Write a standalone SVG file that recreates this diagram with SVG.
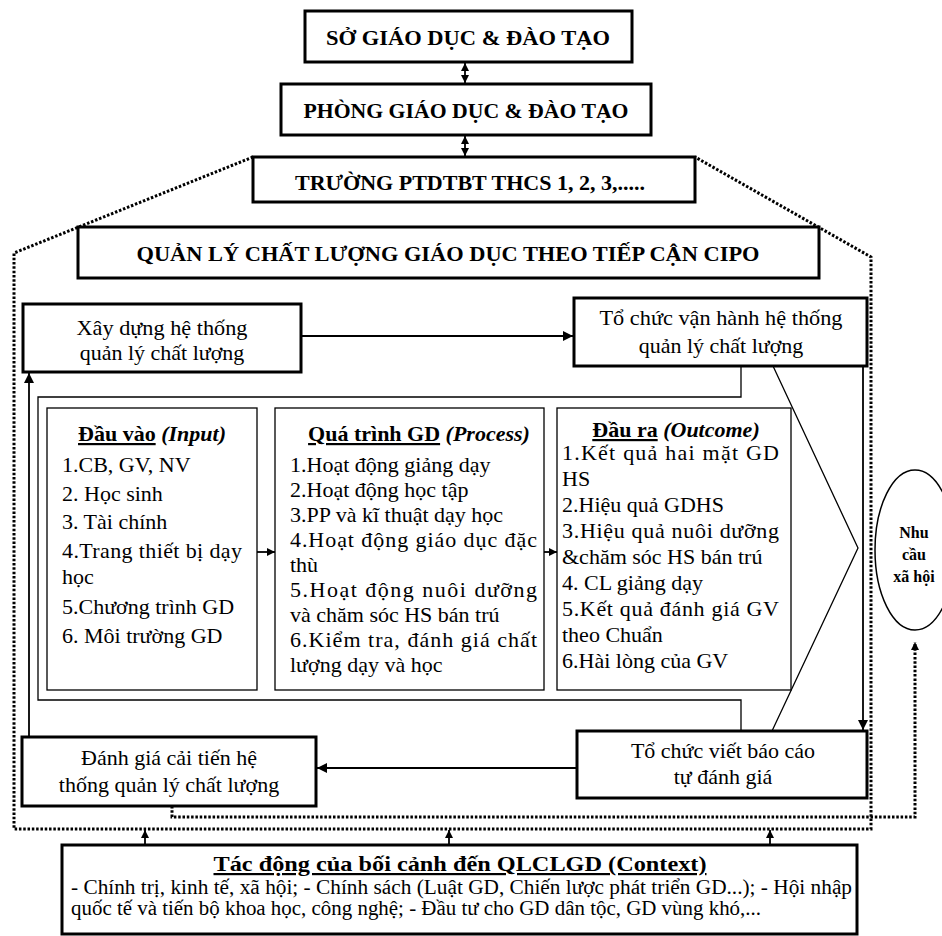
<svg xmlns="http://www.w3.org/2000/svg" width="942" height="936" viewBox="0 0 942 936">
<style>
.box{fill:#fff;stroke:#000;stroke-width:3}
.thin{fill:#fff;stroke:#000;stroke-width:1.3}
.ln{fill:none;stroke:#000;stroke-width:1.8}
.lt{fill:none;stroke:#000;stroke-width:1.3}
.dot{fill:none;stroke:#000;stroke-width:3;stroke-dasharray:2.5 1.8}
text{font-family:"Liberation Serif","Times New Roman",serif;fill:#000}
.t{font-size:22px}
.c{text-anchor:middle}
.h{font-size:22px;font-weight:bold;text-anchor:middle}
.u{text-decoration:underline}
.ctx{font-size:20px}
</style>
<defs>
<marker id="ah" viewBox="0 0 10 10" refX="10" refY="5" markerWidth="10" markerHeight="10" orient="auto-start-reverse" markerUnits="userSpaceOnUse"><path d="M0,0 L10,5 L0,10 z" fill="#000"/></marker>
<marker id="as" viewBox="0 0 10 10" refX="10" refY="5" markerWidth="8" markerHeight="8" orient="auto-start-reverse" markerUnits="userSpaceOnUse"><path d="M0,0 L10,5 L0,10 z" fill="#000"/></marker>
</defs>

<g id="connectors">
<path class="dot" d="M253,157 L14,253 L14,829 L871,829 L871,257 L695,157"/>
<path class="dot" d="M172,806 L172,817 L915,817 L915,642" marker-end="url(#as)"/>
<path class="ln" d="M465,63 L465,83" marker-start="url(#as)" marker-end="url(#as)"/>
<path class="ln" d="M465,136 L465,156" marker-start="url(#as)" marker-end="url(#as)"/>
<path class="ln" d="M301,336 L573,336" marker-end="url(#ah)"/>
<path class="ln" d="M863,366 L863,730" marker-end="url(#ah)"/>
<path class="ln" d="M577,768 L317,768" marker-end="url(#ah)"/>
<path class="ln" d="M29,737 L29,373" marker-end="url(#ah)"/>
<path class="lt" d="M741,366 L741,397 L38,397 L38,700 L741,700 L741,731"/>
<path class="lt" d="M773,366 L858,548 L772,731"/>
<path class="ln" d="M257,552 L275,552" marker-end="url(#as)"/>
<path class="ln" d="M544,552 L557,552" marker-end="url(#as)"/>
<path class="ln" d="M145,845 L145,830" marker-end="url(#as)"/>
<path class="ln" d="M449,845 L449,830" marker-end="url(#as)"/>
<path class="ln" d="M770,845 L770,830" marker-end="url(#as)"/>
</g>

<g id="so">
<rect class="box" x="305" y="11" width="327" height="51"/>
<text class="h" x="468" y="45" textLength="284" lengthAdjust="spacingAndGlyphs">SỞ GIÁO DỤC &amp; ĐÀO TẠO</text>
</g>
<g id="phong">
<rect class="box" x="281" y="84" width="370" height="51"/>
<text class="h" x="466" y="118" textLength="325" lengthAdjust="spacingAndGlyphs">PHÒNG GIÁO DỤC &amp; ĐÀO TẠO</text>
</g>
<g id="truong">
<rect class="box" x="253" y="157" width="442" height="45"/>
<text class="h" x="470" y="190" textLength="350" lengthAdjust="spacingAndGlyphs">TRƯỜNG PTDTBT THCS 1, 2, 3,.....</text>
</g>
<g id="quanly">
<rect class="box" x="78" y="227" width="741" height="51"/>
<text class="h" x="448" y="261" textLength="623" lengthAdjust="spacingAndGlyphs">QUẢN LÝ CHẤT LƯỢNG GIÁO DỤC THEO TIẾP CẬN CIPO</text>
</g>
<g id="xaydung">
<rect class="box" x="23" y="304" width="278" height="68"/>
<text class="t c" x="162" y="335" textLength="171" lengthAdjust="spacingAndGlyphs">Xây dựng hệ thống</text>
<text class="t c" x="162" y="360">quản lý chất lượng</text>
</g>
<g id="vanhanh">
<rect class="box" x="574" y="298" width="293" height="68"/>
<text class="t c" x="721" y="325" textLength="243" lengthAdjust="spacingAndGlyphs">Tổ chức vận hành hệ thống</text>
<text class="t c" x="721" y="353">quản lý chất lượng</text>
</g>
<g id="input">
<rect class="thin" x="47" y="408" width="210" height="282"/>
<text class="t c" x="152" y="441" font-weight="bold"><tspan class="u">Đầu vào</tspan> <tspan font-style="italic">(Input)</tspan></text>
<text class="t" x="62" y="472">1.CB, GV, NV</text>
<text class="t" x="62" y="501">2. Học sinh</text>
<text class="t" x="62" y="529">3. Tài chính</text>
<text class="t" x="62" y="558" textLength="180" lengthAdjust="spacing">4.Trang thiết bị dạy</text>
<text class="t" x="62" y="584">học</text>
<text class="t" x="62" y="614">5.Chương trình GD</text>
<text class="t" x="62" y="643">6. Môi trường GD</text>
</g>
<g id="process">
<rect class="thin" x="275" y="408" width="269" height="282"/>
<text class="t c" x="419" y="441" font-weight="bold"><tspan class="u">Quá trình GD</tspan> <tspan font-style="italic">(Process)</tspan></text>
<text class="t" x="290" y="472">1.Hoạt động giảng dạy</text>
<text class="t" x="290" y="497">2.Hoạt động học tập</text>
<text class="t" x="290" y="522">3.PP và kĩ thuật dạy học</text>
<text class="t" x="290" y="547" textLength="247" lengthAdjust="spacing">4.Hoạt động giáo dục đặc</text>
<text class="t" x="290" y="572">thù</text>
<text class="t" x="290" y="597" textLength="247" lengthAdjust="spacing">5.Hoạt động nuôi dưỡng</text>
<text class="t" x="290" y="622">và chăm sóc HS bán trú</text>
<text class="t" x="290" y="647" textLength="247" lengthAdjust="spacing">6.Kiểm tra, đánh giá chất</text>
<text class="t" x="290" y="672">lượng dạy và học</text>
</g>
<g id="outcome">
<rect class="thin" x="557" y="408" width="234" height="282"/>
<text class="t c" x="676" y="437" font-weight="bold"><tspan class="u">Đầu ra</tspan> <tspan font-style="italic">(Outcome)</tspan></text>
<text class="t" x="562" y="460" textLength="217" lengthAdjust="spacing">1.Kết quả hai mặt GD</text>
<text class="t" x="562" y="486">HS</text>
<text class="t" x="562" y="512">2.Hiệu quả GDHS</text>
<text class="t" x="562" y="538" textLength="217" lengthAdjust="spacing">3.Hiệu quả nuôi dưỡng</text>
<text class="t" x="562" y="564">&amp;chăm sóc HS bán trú</text>
<text class="t" x="562" y="590">4. CL giảng dạy</text>
<text class="t" x="562" y="616" textLength="217" lengthAdjust="spacing">5.Kết quả đánh giá GV</text>
<text class="t" x="562" y="642">theo Chuẩn</text>
<text class="t" x="562" y="668">6.Hài lòng của GV</text>
</g>
<g id="nhucau">
<ellipse cx="915" cy="550" rx="40" ry="80" fill="#fff" stroke="#000" stroke-width="1.5"/>
<text x="914" y="538" font-size="16" font-weight="bold" text-anchor="middle">Nhu</text>
<text x="914" y="560" font-size="16" font-weight="bold" text-anchor="middle">cầu</text>
<text x="914" y="582" font-size="16" font-weight="bold" text-anchor="middle">xã hội</text>
</g>
<g id="vietbaocao">
<rect class="box" x="577" y="731" width="290" height="67"/>
<text class="t c" x="723" y="758">Tổ chức viết báo cáo</text>
<text class="t c" x="723" y="784">tự đánh giá</text>
</g>
<g id="danhgia">
<rect class="box" x="22" y="737" width="294" height="69"/>
<text class="t c" x="169" y="765">Đánh giá cải tiến hệ</text>
<text class="t c" x="169" y="792">thống quản lý chất lượng</text>
</g>
<g id="context">
<rect class="box" x="62" y="845" width="795" height="89"/>
<text x="460" y="871" font-size="22" font-weight="bold" text-anchor="middle" class="u" textLength="493" lengthAdjust="spacingAndGlyphs">Tác động của bối cảnh đến QLCLGD (Context)</text>
<text class="ctx" x="71" y="894" textLength="781" lengthAdjust="spacingAndGlyphs">- Chính trị, kinh tế, xã hội; - Chính sách (Luật GD, Chiến lược phát triển GD...); - Hội nhập</text>
<text class="ctx" x="71" y="915" textLength="690" lengthAdjust="spacingAndGlyphs">quốc tế và tiến bộ khoa học, công nghệ; - Đầu tư cho GD dân tộc, GD vùng khó,...</text>
</g>
</svg>
